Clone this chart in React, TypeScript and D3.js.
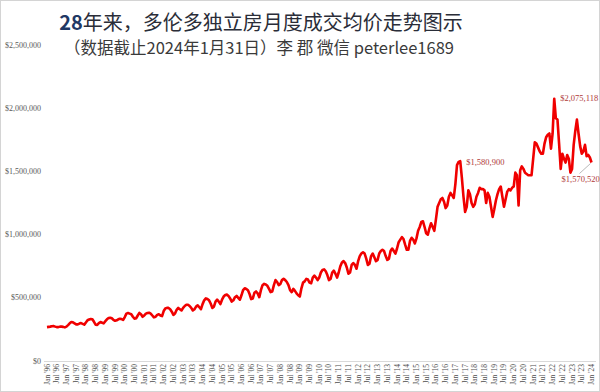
import React from 'react';
import * as d3 from 'd3';

// monthly average price of detached houses, in thousands of dollars, Jan 1996 .. Jan 2024
const startYear = 1996;
const avgPriceK = [
  268, 270, 272, 275, 276, 272, 268, 268, 272, 272, 270, 266, // 1996
  272, 284, 298, 308, 306, 298, 290, 290, 296, 300, 294, 288, // 1997
  305, 322, 328, 332, 330, 310, 288, 286, 300, 308, 303, 298, // 1998
  315, 330, 340, 342, 338, 325, 318, 322, 330, 334, 332, 325, // 1999
  348, 375, 380, 375, 370, 350, 335, 338, 360, 380, 370, 350, // 2000
  360, 375, 380, 382, 375, 360, 345, 350, 365, 370, 360, 355, // 2001
  395, 415, 420, 420, 410, 390, 365, 375, 405, 420, 410, 400, // 2002
  420, 435, 445, 445, 435, 420, 400, 410, 430, 440, 425, 410, // 2003
  450, 480, 495, 490, 480, 455, 420, 430, 470, 485, 470, 450, // 2004
  485, 510, 522, 525, 515, 495, 470, 480, 505, 515, 500, 485, // 2005
  520, 560, 575, 570, 560, 530, 490, 495, 540, 550, 535, 505, // 2006
  560, 600, 610, 605, 595, 570, 545, 550, 600, 640, 625, 600, // 2007
  610, 640, 650, 640, 625, 600, 560, 545, 570, 555, 535, 520, // 2008
  510, 575, 620, 630, 650, 645, 620, 615, 660, 675, 660, 640, // 2009
  660, 700, 720, 725, 710, 680, 640, 650, 700, 715, 690, 660, // 2010
  700, 750, 780, 790, 775, 740, 690, 700, 760, 775, 760, 730, // 2011
  790, 830, 850, 860, 850, 810, 760, 770, 830, 850, 820, 790, // 2012
  800, 850, 870, 880, 870, 830, 800, 810, 870, 890, 870, 850, // 2013
  890, 940, 960, 980, 965, 920, 880, 880, 950, 975, 960, 930, // 2014
  970, 1030, 1060, 1100, 1105, 1060, 1010, 1000, 1050, 1090, 1060, 1030, // 2015
  1120, 1220, 1250, 1280, 1290, 1260, 1210, 1230, 1300, 1330, 1310, 1290, // 2016
  1400, 1550, 1575, 1580.9, 1450, 1300, 1180, 1220, 1350, 1320, 1250, 1220, // 2017
  1240, 1300, 1330, 1370, 1360, 1360, 1350, 1250, 1330, 1300, 1220, 1140, // 2018
  1200, 1270, 1320, 1360, 1380, 1300, 1220, 1280, 1340, 1360, 1350, 1370, // 2019
  1380, 1490, 1470, 1230, 1510, 1540, 1520, 1490, 1480, 1470, 1470, 1470, // 2020
  1600, 1730, 1720, 1690, 1660, 1640, 1640, 1720, 1770, 1790, 1800, 1680, // 2021
  1800, 2075.118, 1920, 1910, 1720, 1520, 1640, 1600, 1570, 1630, 1600, 1490, // 2022
  1520, 1710, 1820, 1910, 1800, 1700, 1640, 1660, 1710, 1620, 1630, 1610, // 2023
  1570.52, // 2024
];

const yTicks = [0, 500, 1000, 1500, 2000, 2500];

const xTickLabels = [
  "Jan '96", "Jul '96", "Jan '97", "Jul '97", "Jan '98", "Jul '98", "Jan '99", "Jul '99",
  "Jan '00", "Jul '00", "Jan '01", "Jul '01", "Jan '02", "Jul '02", "Jan '03", "Jul '03",
  "Jan '04", "Jul '04", "Jan '05", "Jul '05", "Jan '06", "Jul '06", "Jan '07", "Jul '07",
  "Jan '08", "Jul '08", "Jan '09", "Jul '09", "Jan '10", "Jul '10", "Jan '11", "Jul '11",
  "Jan '12", "Jul '12", "Jan '13", "Jul '13", "Jan '14", "Jul '14", "Jan '15", "Jul '15",
  "Jan '16", "Jul '16", "Jan '17", "Jul '17", "Jan '18", "Jul '18", "Jan '19", "Jul '19",
  "Jan '20", "Jul '20", "Jan '21", "Jul '21", "Jan '22", "Jul '22", "Jan '23", "Jul '23",
  "Jan '24",
];

// month index (from Jan 1996) of the labelled points
const callouts = [
  { month: (2017 - startYear) * 12 + 3, text: '$1,580,900', dx: 6, dy: 3.5 },
  { month: (2022 - startYear) * 12 + 1, text: '$2,075,118', dx: 6, dy: 2 },
  { month: (2024 - startYear) * 12, text: '$1,570,520', dx: -30, dy: 20, leader: true },
];

const W = 600;
const H = 392;
const serif = '"Liberation Serif", "DejaVu Serif", serif';
const cjk = '"Noto Sans CJK SC", "Noto Sans", sans-serif';

export default function App() {
  const x = d3.scaleLinear().domain([0, avgPriceK.length - 1]).range([47, 591.5]);
  const y = d3.scaleLinear().domain([0, 2500]).range([361, 45]);
  const line = d3.line<number>().x((_, i) => x(i)).y(d => y(d)).curve(d3.curveLinear);
  const fmt = d3.format('$,.0f');

  return (
    <svg width={W} height={H} style={{ position: 'absolute', left: 0, top: 0, display: 'block', background: '#fff' }}>
      <rect x={0.5} y={0.5} width={W - 1} height={H - 1} fill="#fff" stroke="#d4d4d4" />

      <text x={261} y={30} textAnchor="middle" fontFamily={cjk} fontSize={20} fill="#2a2d38">
        <tspan fontWeight="bold" fill="#1f3864">28</tspan>年来，多伦多独立房月度成交均价走势图示
      </text>
      <text x={259} y={54} textAnchor="middle" fontFamily={cjk} fontSize={16.5} fill="#3a3a3a">
        （数据截止2024年1月31日）李 郡 微信 peterlee1689
      </text>

      {yTicks.map(t => (
        <text key={t} x={41} y={y(t)} dy="0.33em" textAnchor="end" fontFamily={serif} fontSize={8} fill="#595959">
          {fmt(t * 1000)}
        </text>
      ))}

      <line x1={44} x2={596} y1={361.5} y2={361.5} stroke="#d9d9d9" />

      {xTickLabels.map((lab, i) => (
        <text key={lab} transform={`translate(${x(i * 6) + 2.5},364) rotate(-90)`} textAnchor="end"
          fontFamily={serif} fontSize={7.5} fill="#4d4d4d">
          {lab}
        </text>
      ))}

      <path d={line(avgPriceK) ?? ''} fill="none" stroke="#f00000" strokeWidth={2.6} strokeLinejoin="round" />

      {callouts.map(c => (
        <g key={c.text}>
          {c.leader && (
            <line x1={x(c.month) + c.dx + 18} y1={y(avgPriceK[c.month]) + c.dy - 9}
              x2={x(c.month) - 1} y2={y(avgPriceK[c.month]) + 1} stroke="#a6a6a6" strokeWidth={0.8} />
          )}
          <text x={x(c.month) + c.dx} y={y(avgPriceK[c.month]) + c.dy} fontFamily={serif} fontSize={8.5} fill="#b03a3a">
            {c.text}
          </text>
        </g>
      ))}
    </svg>
  );
}
